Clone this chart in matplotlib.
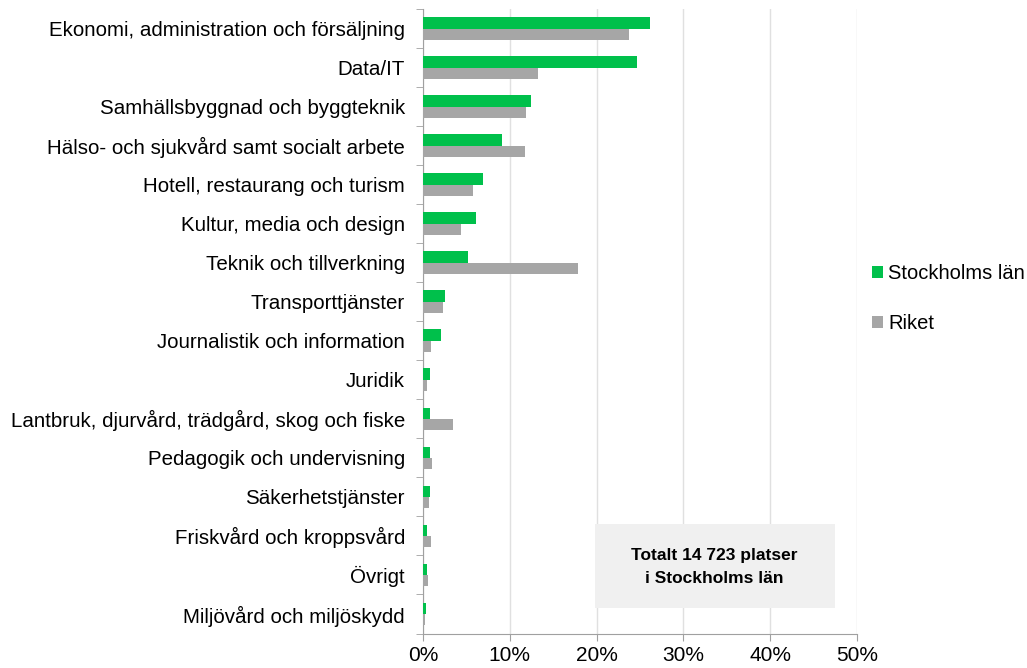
import matplotlib
matplotlib.use('Agg')
import matplotlib.pyplot as plt
from matplotlib.patches import Rectangle
import numpy as np

plt.rcParams['font.family'] = ['Liberation Sans', 'DejaVu Sans']

categories = ['Ekonomi, administration och försäljning', 'Data/IT',
              'Samhällsbyggnad och byggteknik', 'Hälso- och sjukvård samt socialt arbete',
              'Hotell, restaurang och turism', 'Kultur, media och design',
              'Teknik och tillverkning', 'Transporttjänster',
              'Journalistik och information', 'Juridik',
              'Lantbruk, djurvård, trädgård, skog och fiske', 'Pedagogik och undervisning',
              'Säkerhetstjänster', 'Friskvård och kroppsvård', 'Övrigt',
              'Miljövård och miljöskydd']
stockholm = [26.2, 24.7, 12.4, 9.1, 6.9, 6.1, 5.2, 2.5, 2.1, 0.85, 0.8, 0.8, 0.8, 0.5, 0.45, 0.4]
riket = [23.7, 13.3, 11.9, 11.8, 5.8, 4.4, 17.8, 2.3, 0.9, 0.5, 3.5, 1.0, 0.7, 0.9, 0.6, 0.27]
xticks = [0, 10, 20, 30, 40, 50]
box_text = 'Totalt 14 723 platser\ni Stockholms län'

green = '#00C04B'
grey = '#A6A6A6'

fig = plt.figure(figsize=(10.27, 6.68), dpi=100)
ax = fig.add_axes([423 / 1027, 34.5 / 668, 434 / 1027, 624.5 / 668])

y = np.arange(len(categories))
h = 0.29
ax.barh(y - h / 2, stockholm, height=h, color=green, label='Stockholms län', zorder=3)
ax.barh(y + h / 2, riket, height=h, color=grey, label='Riket', zorder=3)

ax.set_ylim(len(categories) - 0.5, -0.5)
ax.set_xlim(0, 50)
ax.set_xticks(xticks)
ax.set_xticklabels([f'{t}%' for t in xticks], fontsize=15)
ax.set_yticks(y)
ax.set_yticklabels(categories, fontsize=14.75)
ax.set_yticks(np.arange(len(categories) + 1) - 0.5, minor=True)
ax.tick_params(axis='y', which='major', length=0, pad=13)
ax.tick_params(axis='y', which='minor', length=5, color='#A0A0A0')
ax.tick_params(axis='x', length=5, color='#A0A0A0', pad=4)

ax.grid(axis='x', color='#E0E0E0', linewidth=1, zorder=0)
for s in ['top', 'right']:
    ax.spines[s].set_visible(False)
for s in ['left', 'bottom']:
    ax.spines[s].set_color('#A0A0A0')

ax.add_patch(Rectangle((19.78, 14.85), 27.65, -2.155, facecolor='#F0F0F0', edgecolor='none', zorder=4))
ax.text(33.6, 13.8, box_text, ha='center', va='center', fontsize=12.5,
        fontweight='bold', linespacing=1.65, zorder=5)

ax.legend(loc='center left', bbox_to_anchor=(0.993, 0.536), frameon=False, fontsize=14.5,
          handlelength=0.55, handleheight=0.55, handletextpad=0.25, labelspacing=1.55)

fig.savefig('out.png')
